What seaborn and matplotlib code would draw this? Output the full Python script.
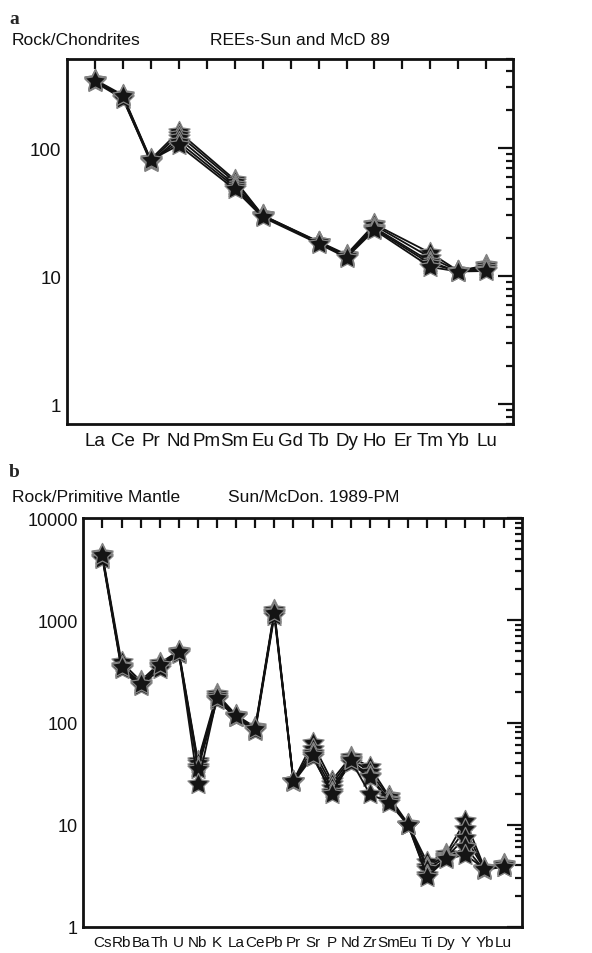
import numpy as np
import pandas as pd
import matplotlib
matplotlib.use("Agg")
import matplotlib.pyplot as plt
from matplotlib import font_manager
from matplotlib.path import Path
import seaborn as sns

# panel a: chondrite-normalised REE (Pm, Gd, Er not analysed)
ree = ['La', 'Ce', 'Pr', 'Nd', 'Pm', 'Sm', 'Eu', 'Gd', 'Tb', 'Dy', 'Ho', 'Er', 'Tm', 'Yb', 'Lu']
ree_s1 = [345, 262, 82, 135, None, 57, 30, None, 18.7, 14.8, 25.5, None, 15.2, 11.0, 12.2]
ree_s2 = [340, 255, 80, 128, None, 55, 30, None, 18.5, 14.5, 25.0, None, 14.0, 11.0, 12.0]
ree_s3 = [335, 250, 78, 120, None, 52, 29.5, None, 18.3, 14.2, 24.0, None, 13.0, 10.8, 11.6]
ree_s4 = [330, 245, 80, 112, None, 50, 29.5, None, 18.5, 14.5, 23.5, None, 12.5, 11.0, 11.3]
ree_s5 = [338, 258, 81, 106, None, 48, 29, None, 18.0, 14.0, 23.0, None, 11.8, 10.9, 11.0]

# panel b: primitive-mantle normalised spider diagram
spd = ['Cs', 'Rb', 'Ba', 'Th', 'U', 'Nb', 'K', 'La', 'Ce', 'Pb', 'Pr', 'Sr', 'P', 'Nd', 'Zr',
       'Sm', 'Eu', 'Ti', 'Dy', 'Y', 'Yb', 'Lu']
spd_s1 = [4400, 390, 255, 380, 500, 42, 190, 118, 90, 1250, 27, 63, 27, 46, 37, 19, 10.2, 4.3, 5.2, 11.0, 3.8, 4.1]
spd_s2 = [4200, 360, 245, 360, 490, 40, 180, 115, 88, 1200, 27, 55, 25, 44, 33, 18.5, 10.0, 3.9, 5.0, 9.0, 3.7, 4.0]
spd_s3 = [4100, 340, 235, 350, 480, 37, 170, 113, 85, 1150, 26.5, 50, 23, 42, 30, 17.5, 10.0, 3.7, 4.8, 7.5, 3.7, 4.0]
spd_s4 = [4000, 330, 225, 335, 470, 35, 165, 112, 82, 1100, 26, 46, 21, 40, 29, 17, 10.0, 3.2, 4.7, 6.0, 3.6, 3.9]
spd_s5 = [4300, 350, 240, 365, 485, 25, 175, 116, 86, 1180, 27, 48, 20, 43, 20, 16.5, 9.9, 3.1, 4.6, 5.1, 3.7, 3.9]


def long_form(samples):
    rows = []
    for k, vals in enumerate(samples):
        for i, v in enumerate(vals):
            if v is not None:
                rows.append({'sample': k, 'pos': i, 'value': v})
    return pd.DataFrame(rows)


df_a = long_form([ree_s1, ree_s2, ree_s3, ree_s4, ree_s5])
df_b = long_form([spd_s1, spd_s2, spd_s3, spd_s4, spd_s5])

sns.set_style('white')
plt.rcParams['font.family'] = ['Liberation Sans', 'DejaVu Sans']
installed = {f.name for f in font_manager.fontManager.ttflist}
narrow = 'Liberation Sans Narrow' if 'Liberation Sans Narrow' in installed else 'Liberation Sans'
head_size = 14.5 if narrow != 'Liberation Sans' else 12.5
spd_size = 14 if narrow != 'Liberation Sans' else 11

# fat five-pointed star like the original symbols
ang = np.pi / 2 + np.arange(10) * np.pi / 5
rad = np.where(np.arange(10) % 2 == 0, 1.0, 0.5)
star = Path(np.column_stack([rad * np.cos(ang), rad * np.sin(ang)]).tolist() + [[0, 1]],
            [Path.MOVETO] + [Path.LINETO] * 9 + [Path.CLOSEPOLY])

fig = plt.figure(figsize=(5.92, 9.54), dpi=100)
ax1 = fig.add_axes([66.7 / 592, 1 - 425 / 954, (513 - 66.7) / 592, (425 - 60) / 954])
ax2 = fig.add_axes([83.3 / 592, 1 - 928 / 954, (521.7 - 83.3) / 592, (928 - 519) / 954])

line_kw = dict(units='sample', estimator=None, color='#111111', lw=1.3, marker=star,
               markersize=16, markerfacecolor='#141414', markeredgecolor='#858585',
               markeredgewidth=0.9, legend=False)

sns.lineplot(data=df_a, x='pos', y='value', ax=ax1, **line_kw)
sns.lineplot(data=df_b, x='pos', y='value', ax=ax2, **line_kw)

for ax, labels, ylim in [(ax1, ree, (0.7, 500)), (ax2, spd, (1, 10000))]:
    ax.set_yscale('log')
    ax.set_ylim(*ylim)
    ax.set_xlim(-1, len(labels) - 0.05)
    ax.set_xticks(range(len(labels)))
    ax.set_xticklabels(labels)
    ax.set_xlabel('')
    ax.set_ylabel('')
    ax.yaxis.set_major_formatter(matplotlib.ticker.FuncFormatter(lambda v, p: '%g' % v))
    ax.yaxis.set_minor_formatter(matplotlib.ticker.NullFormatter())
    ax.tick_params(which='both', direction='in', top=True, right=True, labelsize=13.5,
                   colors='#111111', width=1.6)
    ax.tick_params(axis='y', which='major', length=11, pad=4)
    ax.tick_params(axis='y', which='minor', length=5)
    ax.tick_params(axis='x', which='major', length=7, pad=6)
    for sp in ax.spines.values():
        sp.set_linewidth(2)
        sp.set_color('#111111')

ax2.tick_params(axis='y', labelsize=13)
for lab in ax2.get_xticklabels():
    lab.set_family([narrow, 'DejaVu Sans'])
    lab.set_fontsize(spd_size)

fig.text(9 / 592, 1 - 24 / 954, 'a', family=['Liberation Serif'], weight='bold', fontsize=14)
fig.text(12 / 592, 1 - 45 / 954, 'Rock/Chondrites', family=[narrow], fontsize=head_size, color='#111111')
fig.text(210 / 592, 1 - 45 / 954, 'REEs-Sun and McD 89', family=[narrow], fontsize=head_size, color='#111111')
fig.text(9 / 592, 1 - 477 / 954, 'b', family=['Liberation Serif'], weight='bold', fontsize=14)
fig.text(12 / 592, 1 - 502 / 954, 'Rock/Primitive Mantle', family=[narrow], fontsize=head_size, color='#111111')
fig.text(228 / 592, 1 - 502 / 954, 'Sun/McDon. 1989-PM', family=[narrow], fontsize=head_size, color='#111111')

fig.savefig('out.png', dpi=100)
